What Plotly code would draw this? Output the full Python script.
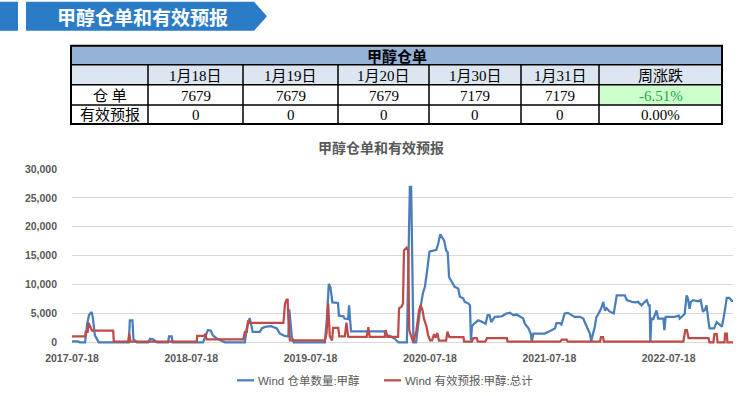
import plotly.graph_objects as go

# ---------------- data ----------------
table_title = "甲醇仓单"
col_headers = ["1月18日", "1月19日", "1月20日", "1月30日", "1月31日", "周涨跌"]
row_labels = ["仓单", "有效预报"]
warrant_row = ["7679", "7679", "7679", "7179", "7179", "-6.51%"]
forecast_row = ["0", "0", "0", "0", "0", "0.00%"]

header_text = "甲醇仓单和有效预报"
chart_title = "甲醇仓单和有效预报"
series_names = ["Wind 仓单数量:甲醇", "Wind 有效预报:甲醇:总计"]

x_ticks = ["2017-07-18", "2018-07-18", "2019-07-18", "2020-07-18", "2021-07-18", "2022-07-18"]
x_start, x_end = "2017-07-18", "2023-01-31"

warrant_dates = [
    "2017-07-18", "2017-08-05", "2017-08-11", "2017-08-27", "2017-09-02", "2017-09-08", "2017-09-16",
    "2017-09-20", "2017-09-26", "2017-10-02", "2017-10-08", "2018-01-08", "2018-01-11", "2018-01-19",
    "2018-01-22", "2018-01-29", "2018-02-01", "2018-03-08", "2018-03-14", "2018-03-23", "2018-03-29",
    "2018-04-04", "2018-05-08", "2018-05-11", "2018-05-19", "2018-05-22", "2018-08-23", "2018-09-01",
    "2018-09-07", "2018-09-16", "2018-09-22", "2018-10-03", "2018-10-17", "2018-10-29", "2018-12-29",
    "2019-01-04", "2019-01-13", "2019-01-18", "2019-01-22", "2019-02-13", "2019-02-19", "2019-02-28",
    "2019-03-19", "2019-04-06", "2019-04-15", "2019-04-30", "2019-05-11", "2019-05-14", "2019-05-19",
    "2019-05-22", "2019-05-28", "2019-08-31", "2019-09-06", "2019-09-12", "2019-09-17", "2019-09-23",
    "2019-10-10", "2019-10-13", "2019-10-27", "2019-10-30", "2019-11-10", "2019-11-13", "2019-11-16",
    "2019-11-19", "2020-02-28", "2020-03-05", "2020-03-17", "2020-04-01", "2020-04-12", "2020-05-08",
    "2020-05-13", "2020-05-17", "2020-05-21", "2020-05-25", "2020-05-28", "2020-06-05", "2020-06-09",
    "2020-06-17", "2020-06-26", "2020-07-02", "2020-07-08", "2020-07-16", "2020-08-06", "2020-08-12",
    "2020-08-18", "2020-08-23", "2020-08-30", "2020-09-05", "2020-09-10", "2020-09-14", "2020-09-22",
    "2020-10-01", "2020-10-12", "2020-10-17", "2020-10-27", "2020-11-01", "2020-11-12", "2020-11-17",
    "2020-11-20", "2020-11-23", "2020-11-29", "2020-12-12", "2020-12-22", "2021-01-04", "2021-01-10",
    "2021-01-16", "2021-01-21", "2021-02-01", "2021-02-22", "2021-03-10", "2021-03-19", "2021-03-30",
    "2021-04-09", "2021-04-19", "2021-04-29", "2021-05-04", "2021-05-15", "2021-05-22", "2021-05-25",
    "2021-05-30", "2021-07-04", "2021-07-15", "2021-07-25", "2021-08-04", "2021-08-09", "2021-08-19",
    "2021-08-24", "2021-08-29", "2021-09-03", "2021-09-13", "2021-09-24", "2021-10-03", "2021-10-19",
    "2021-10-30", "2021-11-03", "2021-11-14", "2021-11-19", "2021-11-23", "2021-11-30", "2021-12-04",
    "2021-12-09", "2021-12-13", "2021-12-23", "2021-12-30", "2022-01-04", "2022-01-09", "2022-01-19",
    "2022-01-31", "2022-02-06", "2022-02-09", "2022-03-06", "2022-03-12", "2022-03-28", "2022-04-06",
    "2022-04-15", "2022-04-26", "2022-05-06", "2022-05-12", "2022-05-18", "2022-05-21", "2022-05-23",
    "2022-05-26", "2022-06-01", "2022-06-11", "2022-06-16", "2022-07-02", "2022-07-05", "2022-07-09",
    "2022-08-06", "2022-08-18", "2022-08-21", "2022-08-31", "2022-09-05", "2022-09-11", "2022-09-15",
    "2022-09-20", "2022-09-24", "2022-10-01", "2022-10-16", "2022-10-24", "2022-10-31", "2022-11-06",
    "2022-11-11", "2022-11-16", "2022-11-20", "2022-12-04", "2022-12-12", "2022-12-22", "2022-12-28",
    "2023-01-02", "2023-01-08", "2023-01-12", "2023-01-20", "2023-01-27", "2023-01-31",
]
warrant_vals = [
    150, 150, 0, 0, 3000, 4700, 5250,
    4200, 1200, 600, 0, 0, 3800, 3800,
    500, 200, 0, 0, 600, 500, 200,
    0, 0, 1000, 1000, 0, 0, 1500,
    2100, 2000, 1200, 700, 300, 0, 0,
    2500, 4200, 3000, 1800, 1800, 2400, 2650,
    2800, 2400, 1500, 1100, 1000, 5700, 3000,
    900, 0, 0, 4000, 10100, 9500, 6900,
    6800, 4600, 4500, 4100, 4000, 6400, 4000,
    1900, 1900, 1200, 1100, 600, 0, 0,
    15000, 26900, 26900, 8000, 0, 0, 2000,
    5500, 8500, 9600, 12000, 15700, 16000, 17100,
    18700, 18200, 17600, 15900, 15600, 11300, 10400,
    9600, 9300, 7900, 7600, 7000, 6700, 6400,
    300, 2700, 3200, 3800, 3600, 3200, 4700,
    4700, 3500, 4400, 4500, 5000, 5100, 4700,
    4800, 4400, 4100, 3200, 2400, 1500, 100,
    1500, 1500, 1800, 2100, 2400, 3300, 3300,
    3100, 4100, 5000, 5100, 4700, 4400, 4400,
    4100, 3500, 2100, 1500, 200, 1800, 2700,
    4400, 4700, 5800, 7000, 5500, 5900, 5300,
    5000, 7000, 8100, 8100, 7300, 7000, 6900,
    7000, 6400, 7000, 7300, 6400, 6400, 0,
    4100, 4000, 5500, 4100, 4100, 2100, 4400,
    4400, 4600, 4100, 4700, 4900, 8100, 7600,
    5800, 7000, 7300, 7100, 7300, 5300, 5600,
    6400, 4100, 2400, 2400, 3500, 3000, 2700,
    4100, 6500, 7679, 7679, 7179, 7179,
]

forecast_dates = [
    "2017-07-18", "2017-08-27", "2017-08-29", "2017-09-04", "2017-09-07", "2017-09-10", "2017-09-13",
    "2017-09-17", "2017-11-21", "2017-11-23", "2018-01-06", "2018-01-09", "2018-01-13", "2018-08-04",
    "2018-08-05", "2018-08-27", "2018-08-30", "2018-09-03", "2018-12-24", "2018-12-29", "2019-01-04",
    "2019-01-08", "2019-01-13", "2019-04-26", "2019-05-01", "2019-05-06", "2019-05-09", "2019-05-11",
    "2019-05-16", "2019-08-31", "2019-09-05", "2019-09-10", "2019-09-15", "2019-09-22", "2019-09-25",
    "2019-10-11", "2019-10-14", "2019-10-31", "2019-11-05", "2019-11-10", "2019-11-15", "2020-01-06",
    "2020-01-11", "2020-01-15", "2020-03-01", "2020-03-04", "2020-03-09", "2020-04-11", "2020-04-14",
    "2020-04-21", "2020-04-26", "2020-04-29", "2020-05-07", "2020-05-12", "2020-05-15", "2020-05-22",
    "2020-05-27", "2020-06-06", "2020-06-14", "2020-06-19", "2020-06-25", "2020-06-29", "2020-07-07",
    "2020-07-12", "2020-07-18", "2020-07-24", "2020-07-30", "2020-08-04", "2020-08-09", "2020-08-14",
    "2020-09-05", "2020-09-09", "2020-09-15", "2020-10-28", "2020-10-30", "2020-11-23", "2020-11-27",
    "2020-12-08", "2020-12-11", "2021-01-03", "2021-01-08", "2021-03-10", "2021-03-12", "2021-08-20",
    "2021-08-25", "2021-09-09", "2021-09-12", "2021-12-20", "2021-12-23", "2021-12-29", "2022-01-01",
    "2022-09-01", "2022-09-07", "2022-09-12", "2022-09-17", "2022-11-17", "2022-11-20", "2022-12-02",
    "2022-12-05", "2022-12-12", "2022-12-15", "2023-01-05", "2023-01-07", "2023-01-12", "2023-01-14",
    "2023-01-31",
]
forecast_vals = [
    1000, 1000, 1800, 1800, 3350, 3000, 2600,
    2000, 2000, 100, 100, 1500, 100, 100,
    1100, 1100, 1500, 500, 500, 1800, 1800,
    3800, 3350, 3350, 6700, 7400, 7400, 4400,
    350, 350, 1500, 6700, 1000, 300, 2500,
    2500, 1000, 1000, 3400, 1000, 950, 950,
    2600, 950, 950, 2100, 950, 950, 5900,
    6100, 6700, 15900, 16400, 15900, 2100, 900,
    0, 2000, 5500, 6400, 5500, 4100, 2700,
    1200, 350, 350, 1400, 800, 1600, 300,
    300, 1850, 900, 900, 100, 100, 700,
    700, 100, 100, 700, 700, 100, 100,
    450, 450, 100, 100, 900, 900, 100,
    100, 2100, 2100, 700, 700, 0, 0,
    1400, 1400, 0, 0, 1500, 1500, 0,
    0,
]

# ---------------- layout geometry (pixels) ----------------
W, H = 747, 396
PLOT_L, PLOT_R = 72, 733
Y_TOP_PX, Y_ZERO_PX = 169, 342          # pixel of 30,000 and 0
Y_MAX, Y_MIN = 30000, -300
px_per_unit = (Y_ZERO_PX - Y_TOP_PX) / Y_MAX
PLOT_B = Y_ZERO_PX + (-Y_MIN) * px_per_unit
PW = PLOT_R - PLOT_L
PH = PLOT_B - Y_TOP_PX


def fx(x):
    return (x - PLOT_L) / PW


def fy(y):
    return (PLOT_B - y) / PH


BLUE = "#4A7EBB"
RED = "#BE4B48"
GRAY_TXT = "#595959"
BANNER = "#2B7BC6"
CJK = "Noto Sans CJK SC"
SERIF = "Liberation Serif, Noto Sans CJK SC"

fig = go.Figure()
fig.add_trace(go.Scatter(x=warrant_dates, y=warrant_vals, mode="lines", name=series_names[0],
                         line=dict(color=BLUE, width=2.25), showlegend=False))
fig.add_trace(go.Scatter(x=forecast_dates, y=forecast_vals, mode="lines", name=series_names[1],
                         line=dict(color=RED, width=2.25), showlegend=False))

shapes = []
annotations = []

# ---- header banner ----
shapes.append(dict(type="rect", xref="paper", yref="paper", x0=fx(0), x1=fx(18), y0=fy(2), y1=fy(31),
                   fillcolor=BANNER, line=dict(width=0), layer="above"))
path = "M {} {} L {} {} L {} {} L {} {} L {} {} Z".format(
    fx(26), fy(2), fx(254), fy(2), fx(267), fy(16.5), fx(254), fy(31), fx(26), fy(31))
shapes.append(dict(type="path", xref="paper", yref="paper", path=path,
                   fillcolor=BANNER, line=dict(width=0), layer="above"))
annotations.append(dict(text="<b>" + header_text + "</b>", xref="paper", yref="paper",
                        x=fx(142), y=fy(17), xanchor="center", yanchor="middle", showarrow=False,
                        font=dict(family=CJK, size=19, color="white")))

# ---- table ----
col_edges = [71, 148, 243, 338, 429, 521, 599, 722]
row_edges = [46, 65, 85, 105, 124]
tL, tR = col_edges[0], col_edges[-1]


def rect(x0, x1, y0, y1, fill):
    shapes.append(dict(type="rect", xref="paper", yref="paper", x0=fx(x0), x1=fx(x1),
                       y0=fy(y0), y1=fy(y1), fillcolor=fill, line=dict(width=0), layer="above"))


def hline(x0, x1, y, w):
    shapes.append(dict(type="line", xref="paper", yref="paper", x0=fx(x0), x1=fx(x1),
                       y0=fy(y), y1=fy(y), line=dict(color="black", width=w), layer="above"))


def vline(x, y0, y1, w):
    shapes.append(dict(type="line", xref="paper", yref="paper", x0=fx(x), x1=fx(x),
                       y0=fy(y0), y1=fy(y1), line=dict(color="black", width=w), layer="above"))


rect(tL, tR, row_edges[0], row_edges[1], "#95B3D7")
rect(tL, tR, row_edges[1], row_edges[2], "#DCE6F1")
rect(col_edges[6], col_edges[7], row_edges[2], row_edges[3], "#CCFFCC")
for y in row_edges[1:-1]:
    hline(tL, tR, y, 1.5)
for x in col_edges[1:-1]:
    vline(x, row_edges[1], row_edges[-1], 1.5)
shapes.append(dict(type="rect", xref="paper", yref="paper", x0=fx(tL), x1=fx(tR),
                   y0=fy(row_edges[0]), y1=fy(row_edges[-1]), line=dict(color="black", width=2),
                   fillcolor="rgba(0,0,0,0)", layer="above"))


def cell_text(txt, cx, cy, size=14, color="black", bold=False, family=SERIF):
    annotations.append(dict(text=("<b>%s</b>" % txt) if bold else txt, xref="paper", yref="paper",
                            x=fx(cx), y=fy(cy), xanchor="center", yanchor="middle", showarrow=False,
                            font=dict(family=family, size=size, color=color)))


cell_text(table_title, (tL + tR) / 2, (row_edges[0] + row_edges[1]) / 2 + 0.5, size=15, bold=True,
          family=CJK)
centers = [(col_edges[i] + col_edges[i + 1]) / 2 for i in range(len(col_edges) - 1)]
rc = [(row_edges[i] + row_edges[i + 1]) / 2 for i in range(len(row_edges) - 1)]
for i, h in enumerate(col_headers):
    cell_text(h, centers[i + 1], rc[1] + 1, size=15)
cell_text("仓 单", centers[0], rc[2] + 1, size=15)
cell_text(row_labels[1], centers[0], rc[3] + 1, size=15)
for i, v in enumerate(warrant_row):
    color = "#22A844" if i == len(warrant_row) - 1 else "black"
    cell_text(v, centers[i + 1], rc[2] + 1, size=15, color=color)
for i, v in enumerate(forecast_row):
    cell_text(v, centers[i + 1], rc[3] + 1, size=15)

# ---- chart title ----
annotations.append(dict(text="<b>" + chart_title + "</b>", xref="paper", yref="paper",
                        x=fx(381), y=fy(147), xanchor="center", yanchor="middle", showarrow=False,
                        font=dict(family=CJK, size=14, color=GRAY_TXT)))

# ---- manual legend ----
leg_y = 380
for (lx0, lx1, tx, name, col) in [(237, 254, 256, series_names[0], BLUE),
                                    (384, 401, 403, series_names[1], RED)]:
    shapes.append(dict(type="line", xref="paper", yref="paper", x0=fx(lx0), x1=fx(lx1),
                       y0=fy(leg_y), y1=fy(leg_y), line=dict(color=col, width=2.25)))
    annotations.append(dict(text=name, xref="paper", yref="paper", x=fx(tx), y=fy(leg_y),
                            xanchor="left", yanchor="middle", showarrow=False,
                            font=dict(family="Liberation Sans, " + CJK, size=11.5, color=GRAY_TXT)))

tickfont = dict(family="Liberation Sans", size=10.5, color=GRAY_TXT, weight="bold")

fig.update_layout(
    width=W, height=H,
    margin=dict(l=PLOT_L, r=W - PLOT_R, t=Y_TOP_PX, b=H - PLOT_B, pad=0),
    paper_bgcolor="white", plot_bgcolor="white",
    shapes=shapes, annotations=annotations,
    showlegend=False,
    xaxis=dict(type="date", range=[x_start, x_end], tickvals=x_ticks, ticktext=x_ticks,
               showgrid=False, zeroline=False, showline=False, ticks="", tickfont=tickfont,
               ticklabelstandoff=6, fixedrange=True),
    yaxis=dict(range=[Y_MIN, Y_MAX], tick0=0, dtick=5000, tickformat=",", showgrid=True,
               gridcolor="#D9D9D9", gridwidth=1, zeroline=True, zerolinecolor="#D9D9D9",
               zerolinewidth=1, showline=False, ticks="", tickfont=tickfont,
               ticklabelstandoff=14, fixedrange=True),
)

fig.write_html("out.html")
